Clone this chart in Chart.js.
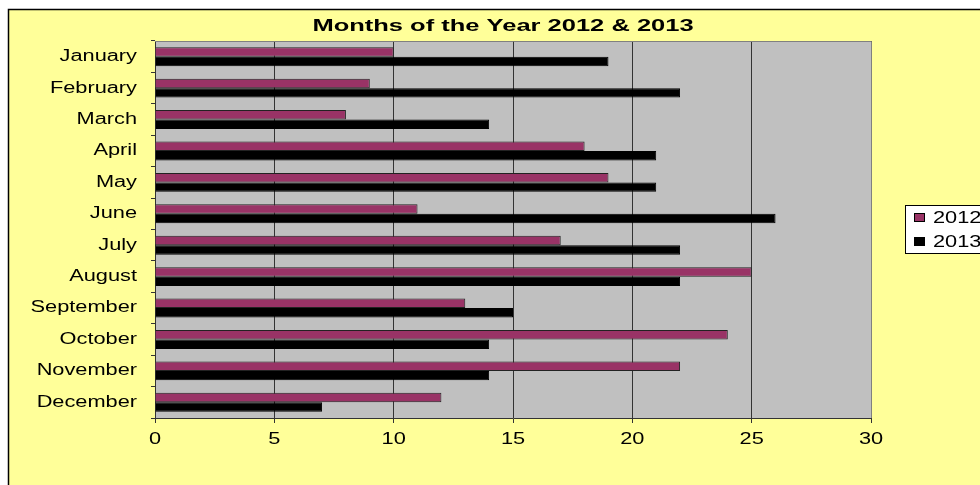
<!DOCTYPE html>
<html>
<head>
<meta charset="utf-8">
<script src="https://cdn.jsdelivr.net/npm/chart.js@4.4.1/dist/chart.umd.min.js"></script>
<style>
  html, body { margin: 0; padding: 0; background: #fff; }
  #wrap { width: 980px; height: 485px; }
</style>
</head>
<body>
<div id="wrap"><canvas id="monthsChart" width="980" height="485"></canvas></div>
<script>
const months = ['January', 'February', 'March', 'April', 'May', 'June', 'July',
    'August', 'September', 'October', 'November', 'December'];
const values2012 = [10, 9, 8, 18, 19, 11, 17, 25, 13, 24, 22, 12];
const values2013 = [19, 22, 14, 21, 21, 26, 22, 22, 15, 14, 14, 7];
const xTicks = [0, 5, 10, 15, 20, 25, 30];
const chartTitle = 'Months of the Year 2012 & 2013';

const FONT = '"Liberation Sans", Arial, sans-serif';
const STRETCH = 1.36;   // the original picture is stretched sideways, text too

function wideText(c, sx) {
    if (!c._plainFill) c._plainFill = c.fillText;
    c.fillText = function(t, x, y) {
        this.save();
        this.translate(x, y);
        this.scale(sx, 1);
        this._plainFill.call(this, t, 0, 0);
        this.restore();
    };
}

// yellow frame, grey plot area, title and legend box
const frame = {
    id: 'frame',
    beforeDraw(chart) {
        const c = chart.ctx, a = chart.chartArea;
        c.save();
        c.fillStyle = '#ffffff';
        c.fillRect(0, 0, chart.width, chart.height);
        c.fillStyle = '#ffff99';
        c.fillRect(8, 9, chart.width, chart.height);
        c.strokeStyle = '#000';
        c.lineWidth = 1.5;
        c.strokeRect(8.5, 9.5, chart.width + 10, chart.height + 10);
        c.fillStyle = '#c0c0c0';
        c.fillRect(a.left, a.top, a.right - a.left, a.bottom - a.top);
        c.restore();
        wideText(c, STRETCH);
    },
    afterDraw(chart) {
        const c = chart.ctx, a = chart.chartArea;
        c.save();
        c.strokeStyle = '#808080';
        c.lineWidth = 1;
        c.beginPath();
        c.moveTo(a.left, a.top + 0.5);
        c.lineTo(a.right + 0.5, a.top + 0.5);
        c.lineTo(a.right + 0.5, a.bottom);
        c.stroke();

        wideText(c, 1.5);
        c.fillStyle = '#000';
        c.font = 'bold 17px ' + FONT;
        c.textAlign = 'center';
        c.textBaseline = 'middle';
        c.fillText(chartTitle, 503, 26);

        // legend
        wideText(c, STRETCH);
        c.strokeStyle = '#000';
        c.fillStyle = '#fff';
        c.fillRect(905.5, 205.5, 90, 48);
        c.strokeRect(905.5, 205.5, 90, 48);
        c.font = '16px ' + FONT;
        c.textAlign = 'left';
        chart.data.datasets.forEach((ds, i) => {
            const y = 218 + i * 24;
            c.fillStyle = ds.backgroundColor;
            c.fillRect(914.5, y - 4.5, 10, 8);
            c.strokeRect(914.5, y - 4.5, 10, 8);
            c.fillStyle = '#000';
            c.fillText(ds.label, 933, y + 1);
        });
        c.restore();
        c.fillText = c._plainFill;
    }
};

new Chart(document.getElementById('monthsChart'), {
    type: 'bar',
    data: {
        labels: months,
        datasets: [{
            label: '2012',
            data: values2012,
            backgroundColor: '#993366',
            borderColor: '#222',
            borderWidth: 1,
            categoryPercentage: 0.6,
            barPercentage: 1
        }, {
            label: '2013',
            data: values2013,
            backgroundColor: '#000000',
            borderColor: '#000',
            borderWidth: 1,
            categoryPercentage: 0.6,
            barPercentage: 1
        }]
    },
    options: {
        indexAxis: 'y',
        responsive: false,
        animation: false,
        layout: { padding: { left: 0, top: 41, right: 109, bottom: 0 } },
        plugins: {
            legend: { display: false },
            title: { display: false },
            tooltip: { enabled: false }
        },
        scales: {
            x: {
                min: 0,
                max: 30,
                afterBuildTicks: scale => { scale.ticks = xTicks.map(v => ({ value: v })); },
                afterFit: scale => { scale.height = 67; },
                grid: { color: '#333', lineWidth: 1, tickLength: 5 },
                border: { color: '#333', width: 1 },
                ticks: { color: '#000', font: { family: FONT, size: 16 }, padding: 7, maxRotation: 0 }
            },
            y: {
                afterFit: scale => { scale.width = 155; },
                grid: { drawOnChartArea: false, color: '#333', tickLength: 4, offset: true },
                border: { color: '#333', width: 1 },
                ticks: { color: '#000', font: { family: FONT, size: 16 }, padding: 14 }
            }
        }
    },
    plugins: [frame]
});
</script>
</body>
</html>
